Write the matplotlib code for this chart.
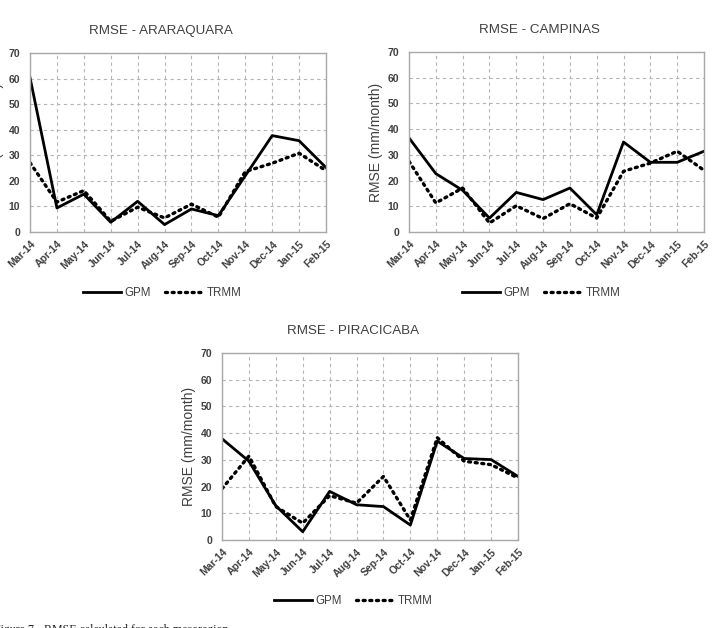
import numpy as np
import matplotlib
matplotlib.use("Agg")
import matplotlib.pyplot as plt

plt.rcParams['font.family'] = ['Liberation Sans', 'DejaVu Sans']

months = ['Mar-14', 'Apr-14', 'May-14', 'Jun-14', 'Jul-14', 'Aug-14',
          'Sep-14', 'Oct-14', 'Nov-14', 'Dec-14', 'Jan-15', 'Feb-15']

# Araraquara
ara_gpm = [60.4, 9.4, 14.8, 3.8, 12.0, 2.9, 9.0, 6.4, 22.0, 37.7, 35.7, 25.2]
ara_trmm = [27.1, 11.7, 16.2, 4.2, 9.7, 5.5, 10.9, 5.8, 23.6, 26.9, 30.8, 24.0]
# Campinas
cam_gpm = [36.6, 22.7, 16.2, 5.4, 15.4, 12.6, 17.1, 6.7, 35.0, 27.1, 27.1, 31.4]
cam_trmm = [27.5, 11.3, 17.1, 3.5, 10.2, 5.2, 11.0, 5.4, 23.6, 26.8, 31.4, 24.0]
# Piracicaba
pir_gpm = [37.9, 29.5, 12.8, 3.1, 18.2, 13.2, 12.5, 5.6, 37.0, 30.5, 30.1, 23.8]
pir_trmm = [19.2, 31.4, 12.5, 6.3, 16.6, 13.8, 23.8, 7.5, 38.3, 29.5, 28.2, 23.2]

W, H = 713, 628
fig = plt.figure(figsize=(W/100, H/100), dpi=100)
txt = '#404040'

def panel(left, top, right, bottom, title, gpm, trmm, leg_x, leg_y):
    ax = fig.add_axes([left/W, 1 - bottom/H, (right-left)/W, (bottom-top)/H])
    x = np.arange(len(months))
    ax.plot(x, gpm, color='black', lw=2.0, label='GPM')
    ax.plot(x, trmm, color='black', lw=2.4, linestyle=(0, (0.6, 1.4)),
            dash_capstyle='round', label='TRMM')
    ax.set_xlim(0, 11)
    ax.set_ylim(0, 70)
    ax.set_yticks(range(0, 71, 10))
    ax.set_xticks(x)
    ax.set_xticklabels(months, rotation=45, ha='right', rotation_mode='anchor',
                       fontsize=7.5, color=txt, fontweight='bold')
    for lab in ax.get_yticklabels():
        lab.set_fontsize(7.5)
        lab.set_color(txt)
        lab.set_fontweight('bold')
    ax.tick_params(axis='y', length=0, pad=7)
    ax.tick_params(axis='x', length=0, pad=5)
    ax.grid(True, color='#b5b5b5', linestyle=(0, (3, 3)), lw=0.8)
    for s in ax.spines.values():
        s.set_color('#a8a8a8')
        s.set_linewidth(1.0)
    ax.set_title(title, fontsize=9.6, color=txt, pad=14,
                 x=0.5 - 17/(right-left))
    ax.set_ylabel('RMSE (mm/month)', fontsize=10, color=txt, labelpad=3)
    ax.legend(loc='center', bbox_to_anchor=(leg_x/W, 1 - leg_y/H),
              bbox_transform=fig.transFigure, ncol=2, frameon=False,
              fontsize=8.3, handlelength=3.3, handletextpad=0.3,
              columnspacing=1.2, labelcolor=txt)
    return ax

panel(30, 53, 326, 232, 'RMSE - ARARAQUARA', ara_gpm, ara_trmm, 162, 293)
panel(409, 52, 704, 232, 'RMSE - CAMPINAS', cam_gpm, cam_trmm, 541, 293)
panel(222, 353, 518, 540, 'RMSE - PIRACICABA', pir_gpm, pir_trmm, 353, 601)

fig.text(-6/W, 1 - 630/H, 'Figure 7 - RMSE calculated for each mesoregion.',
         fontsize=8.6, family='Liberation Serif', color='#202020', va='center')

fig.savefig('out.png', dpi=100)
